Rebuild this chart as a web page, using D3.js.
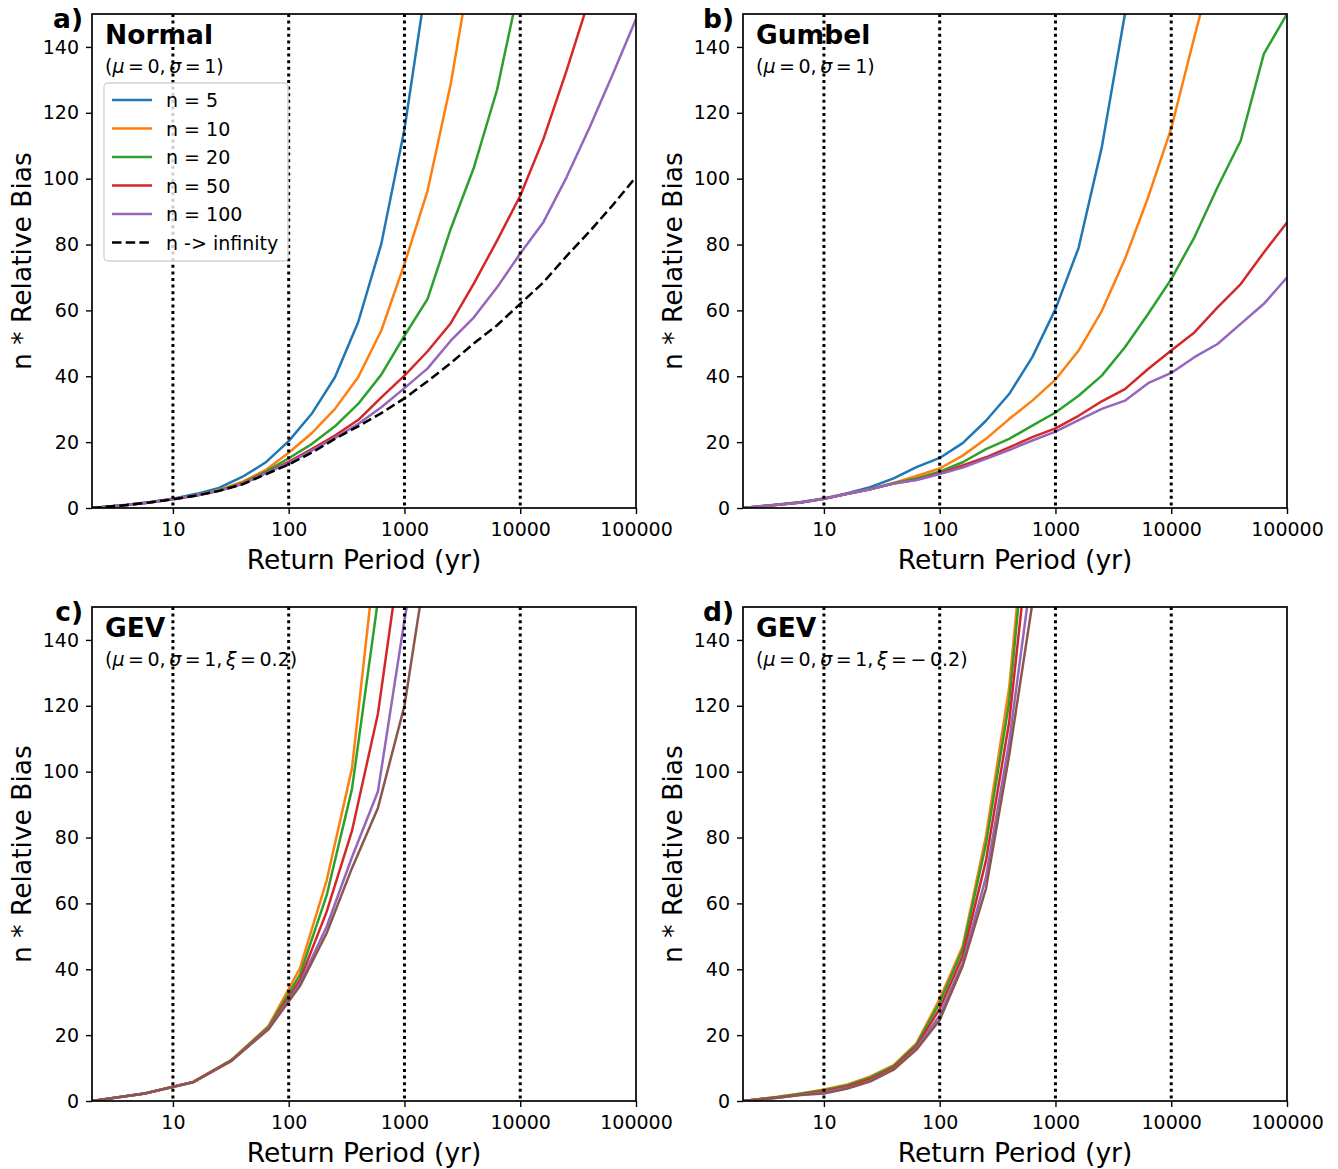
<!DOCTYPE html>
<html>
<head>
<meta charset="utf-8">
<script src="https://cdn.jsdelivr.net/npm/d3@7"></script>
<style>
  body { margin: 0; background: #fff; }
  text { font-family: "DejaVu Sans", sans-serif; fill: #000; }
</style>
</head>
<body>
<svg id="fig" width="1338" height="1169"></svg>
<script>
// return periods (yr) used for the Normal and Gumbel curves
var periods = [2, 4, 6.3, 10, 16, 25, 40, 63, 100, 158, 251, 398, 631, 1000, 1585, 2512,
               3981, 6310, 10000, 15849, 25119, 39811, 63096, 100000];
// return periods for GEV panels
var gevPosPeriods = [2, 5.7, 15, 32, 67, 125, 213, 352, 590, 1000, 1660];
var gevNegPeriods = [2, 4, 6.3, 10, 16, 25, 40, 63, 100, 158, 251, 398, 631];

// a) Normal
var normalN5   = [0, 1.0, 1.8, 2.8, 4.3, 6.1, 9.5, 13.8, 20.3, 28.6, 39.7, 56.4, 80.2, 115, 162];
var normalN10  = [0, 0.9, 1.7, 2.7, 3.9, 5.5, 8.0, 11.5, 16.8, 22.7, 30.1, 39.7, 53.9, 74.1, 96.4, 128.8, 170];
var normalN20  = [0, 0.9, 1.7, 2.7, 3.9, 5.3, 7.6, 11.0, 15.1, 19.4, 24.8, 31.6, 40.5, 52.3, 63.5, 84.8, 103.4, 127, 160];
var normalN50  = [0, 0.9, 1.7, 2.7, 3.8, 5.2, 7.4, 10.6, 14.0, 17.9, 22.0, 26.7, 33.6, 40.2, 47.6, 56.1, 68.2, 81.2, 94.8, 112, 132.8, 155];
var normalN100 = [0, 0.9, 1.7, 2.7, 3.8, 5.2, 7.3, 10.5, 13.6, 17.4, 21.3, 25.5, 30.6, 36.4, 42.4, 50.8, 57.9, 67, 77.3, 86.8, 100.4, 115.6, 131.8, 148.5];
var normalInf  = [0, 0.9, 1.7, 2.6, 3.8, 5.2, 7.2, 10.2, 13.2, 16.8, 21, 24.8, 28.8, 33.3, 38.5, 44, 50, 55.5, 62, 68.5, 76.5, 84, 92, 100.5];

// b) Gumbel
var gumbelN5   = [0, 1.1, 1.8, 2.9, 4.5, 6.3, 9.0, 12.4, 15.2, 19.7, 26.5, 34.6, 45.8, 60.4, 79, 109.5, 150, 187];
var gumbelN10  = [0, 1.0, 1.7, 2.8, 4.3, 5.7, 7.6, 9.7, 12.0, 15.9, 21, 27, 32.6, 39, 47.8, 59.8, 75.6, 94.3, 115.3, 143, 170];
var gumbelN20  = [0, 1.0, 1.7, 2.8, 4.3, 5.7, 7.5, 9.0, 11.0, 13.9, 17.9, 21, 25, 29, 34.1, 40.2, 48.8, 58.9, 69.5, 82.2, 97.4, 111.5, 137.9, 150];
var gumbelN50  = [0, 1.0, 1.7, 2.8, 4.3, 5.7, 7.4, 8.6, 10.5, 12.9, 15.4, 18.4, 21.5, 24.2, 28, 32.4, 36.1, 42.2, 47.8, 53.3, 60.9, 68, 77.6, 86.7];
var gumbelN100 = [0, 1.0, 1.7, 2.8, 4.3, 5.7, 7.4, 8.5, 10.3, 12.3, 14.9, 17.6, 20.5, 23.2, 26.7, 30.1, 32.6, 37.9, 41, 45.8, 49.8, 55.9, 62, 70];

// c) GEV xi = 0.2
var gevPosOrange = [0, 2.3, 5.8, 12.4, 22.8, 40.3, 67, 101, 172];
var gevPosGreen  = [0, 2.3, 5.8, 12.4, 22.5, 38.3, 62.5, 94.7, 152];
var gevPosRed    = [0, 2.3, 5.8, 12.3, 22.2, 36.7, 57.5, 82, 117.6, 175];
var gevPosPurple = [0, 2.3, 5.7, 12.2, 22, 35.7, 53, 74, 94, 146, 190];
var gevPosBrown  = [0, 2.3, 5.7, 12.2, 21.8, 34.9, 51, 70.7, 89, 120, 170];

// d) GEV xi = -0.2
var gevNegOrange = [0, 1.3, 2.3, 3.5, 5.0, 7.4, 10.9, 17.5, 31.0, 47, 80.5, 125.4, 200];
var gevNegGreen  = [0, 1.2, 2.2, 3.3, 4.8, 7.1, 10.6, 17.2, 29.8, 46, 78, 121, 195];
var gevNegRed    = [0, 1.1, 2.0, 3.0, 4.4, 6.6, 10.1, 16.6, 28, 44, 73, 115, 180];
var gevNegPurple = [0, 1.0, 1.9, 2.6, 4.0, 6.1, 9.7, 16.0, 26, 42, 68, 109, 162];
var gevNegBrown  = [0, 1.0, 1.8, 2.3, 3.8, 5.9, 9.5, 15.6, 24.6, 41, 64.5, 104.9, 151];

var xTicks = [10, 100, 1000, 10000, 100000];
var yTicks = [0, 20, 40, 60, 80, 100, 120, 140];
var guideLines = [10, 100, 1000, 10000];
var legendLabels = ["n = 5", "n = 10", "n = 20", "n = 50", "n = 100", "n -> infinity"];

var blue = "#1f77b4", orange = "#ff7f0e", green = "#2ca02c", red = "#d62728",
    purple = "#9467bd", brown = "#8c564b";

var width = 544, height = 494;

var panels = [
  {tag: "a)", title: "Normal", left: 92, top: 14, periods: periods, legend: true,
   sub: [["(", 0], ["μ", 1], [" = 0, ", 0], ["σ", 1], [" = 1)", 0]],
   series: [[normalN5, blue], [normalN10, orange], [normalN20, green], [normalN50, red],
            [normalN100, purple], [normalInf, "#000", true]]},
  {tag: "b)", title: "Gumbel", left: 743, top: 14, periods: periods,
   sub: [["(", 0], ["μ", 1], [" = 0, ", 0], ["σ", 1], [" = 1)", 0]],
   series: [[gumbelN5, blue], [gumbelN10, orange], [gumbelN20, green], [gumbelN50, red],
            [gumbelN100, purple]]},
  {tag: "c)", title: "GEV", left: 92, top: 607, periods: gevPosPeriods,
   sub: [["(", 0], ["μ", 1], [" = 0, ", 0], ["σ", 1], [" = 1, ", 0], ["ξ", 1], [" = 0.2)", 0]],
   series: [[gevPosOrange, orange], [gevPosGreen, green], [gevPosRed, red],
            [gevPosPurple, purple], [gevPosBrown, brown]]},
  {tag: "d)", title: "GEV", left: 743, top: 607, periods: gevNegPeriods,
   sub: [["(", 0], ["μ", 1], [" = 0, ", 0], ["σ", 1], [" = 1, ", 0], ["ξ", 1], [" = − 0.2)", 0]],
   series: [[gevNegOrange, orange], [gevNegGreen, green], [gevNegRed, red],
            [gevNegPurple, purple], [gevNegBrown, brown]]}
];

var svg = d3.select("#fig");

var xScale = d3.scaleLog().domain([2, 100000]).range([0, width]),
    yScale = d3.scaleLinear().domain([0, 150]).range([height, 0]);

var line = d3.line().x(function(d) { return xScale(d[0]); })
                    .y(function(d) { return yScale(d[1]); });

panels.forEach(function(p, k) {
  var g = svg.append("g").attr("transform", "translate(" + p.left + "," + p.top + ")");

  g.append("defs").append("clipPath").attr("id", "clip" + k)
    .append("rect").attr("width", width).attr("height", height);

  // axes
  var xAxis = d3.axisBottom(xScale).tickValues(xTicks).tickFormat(d3.format("d"))
                .tickSize(6).tickPadding(9);
  var yAxis = d3.axisLeft(yScale).tickValues(yTicks).tickSize(6).tickPadding(7);

  var gx = g.append("g").attr("transform", "translate(0," + height + ")").call(xAxis);
  var gy = g.append("g").call(yAxis);
  [gx, gy].forEach(function(a) {
    a.select(".domain").remove();
    a.selectAll(".tick line").attr("stroke", "#000").attr("stroke-width", 1.4);
    a.selectAll(".tick text").style("font-size", "19px").attr("fill", "#000");
  });

  // curves
  var plot = g.append("g").attr("clip-path", "url(#clip" + k + ")");
  p.series.forEach(function(s) {
    var pts = s[0].map(function(v, i) { return [p.periods[i], v]; });
    plot.append("path").datum(pts)
      .attr("d", line)
      .attr("fill", "none")
      .attr("stroke", s[1])
      .attr("stroke-width", 2.5)
      .attr("stroke-linejoin", "round")
      .attr("stroke-dasharray", s[2] ? "9.5,4.2" : null);
  });

  // dotted guides
  plot.selectAll(".guide").data(guideLines).enter().append("line")
    .attr("x1", function(d) { return xScale(d); })
    .attr("x2", function(d) { return xScale(d); })
    .attr("y1", 0).attr("y2", height)
    .attr("stroke", "#000").attr("stroke-width", 3)
    .attr("stroke-dasharray", "3,3.6");

  // frame
  g.append("rect").attr("width", width).attr("height", height)
    .attr("fill", "none").attr("stroke", "#000").attr("stroke-width", 1.7);

  // labels
  g.append("text").attr("x", -9).attr("y", 14)
    .attr("text-anchor", "end").style("font-size", "26.5px").style("font-weight", "bold")
    .text(p.tag);
  g.append("text").attr("x", 13).attr("y", 30)
    .style("font-size", "26.5px").style("font-weight", "bold").text(p.title);
  var sub = g.append("text").attr("x", 13).attr("y", 59)
    .style("font-size", "19px").style("word-spacing", "-2.5px");
  p.sub.forEach(function(part) {
    sub.append("tspan").text(part[0]).style("font-style", part[1] ? "italic" : null);
  });

  g.append("text")
    .attr("transform", "translate(-61," + (height / 2) + ") rotate(-90)")
    .attr("text-anchor", "middle").style("font-size", "26.5px")
    .text("n * Relative Bias");
  g.append("text").attr("x", width / 2).attr("y", height + 61)
    .attr("text-anchor", "middle").style("font-size", "26.5px")
    .text("Return Period (yr)");

  // legend
  if (p.legend) {
    var lg = g.append("g").attr("transform", "translate(12,69)");
    lg.append("rect").attr("width", 184).attr("height", 178).attr("rx", 4)
      .attr("fill", "#fff").attr("fill-opacity", 0.8)
      .attr("stroke", "#d4d4d4").attr("stroke-width", 1.4);
    p.series.forEach(function(s, i) {
      var yy = 17 + i * 28.5;
      lg.append("line").attr("x1", 8).attr("x2", 48).attr("y1", yy).attr("y2", yy)
        .attr("stroke", s[1]).attr("stroke-width", 2.5)
        .attr("stroke-dasharray", s[2] ? "9.5,4.2" : null);
      lg.append("text").attr("x", 62).attr("y", yy + 7)
        .style("font-size", "19px").text(legendLabels[i]);
    });
  }
});
</script>
</body>
</html>
